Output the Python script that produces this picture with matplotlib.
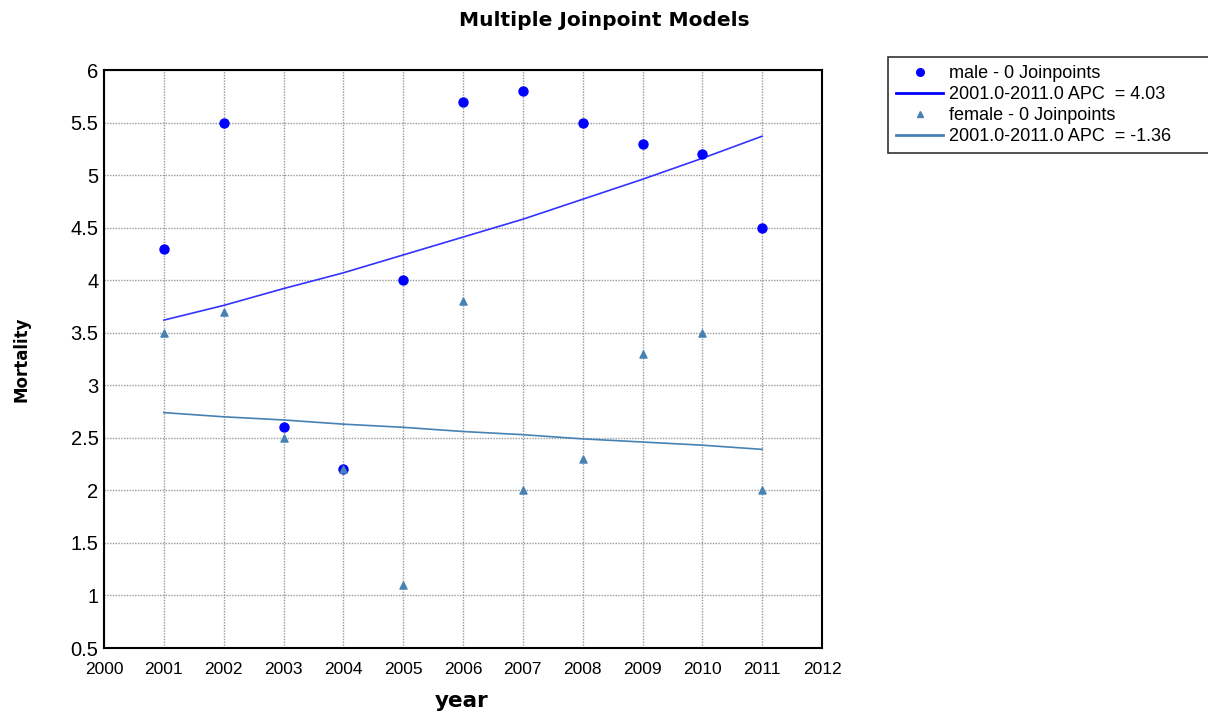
import matplotlib
matplotlib.use("Agg")
import matplotlib.pyplot as plt
from matplotlib.lines import Line2D

years = [2001, 2002, 2003, 2004, 2005, 2006, 2007, 2008, 2009, 2010, 2011]
male = [4.3, 5.5, 2.6, 2.2, 4.0, 5.7, 5.8, 5.5, 5.3, 5.2, 4.5]
female = [3.5, 3.7, 2.5, 2.2, 1.1, 3.8, 2.0, 2.3, 3.3, 3.5, 2.0]
# fitted joinpoint model values
male_fit = [3.62, 3.76, 3.92, 4.07, 4.24, 4.41, 4.58, 4.77, 4.96, 5.16, 5.37]
female_fit = [2.74, 2.70, 2.67, 2.63, 2.60, 2.56, 2.53, 2.49, 2.46, 2.43, 2.39]
male_label = ["male - 0 Joinpoints", "2001.0-2011.0 APC  = 4.03"]
female_label = ["female - 0 Joinpoints", "2001.0-2011.0 APC  = -1.36"]

male_col = "#0000ff"
male_line = "#3333ff"
female_col = "#4682b4"

plt.rcParams['font.family'] = ['Liberation Sans', 'DejaVu Sans']

fig = plt.figure(figsize=(12.08, 7.12), dpi=100)
ax = fig.add_axes([104/1208, 1-648/712, (822-104)/1208, (648-70)/712])

ax.plot(years, male_fit, color=male_line, lw=1.2, zorder=2)
ax.plot(years, female_fit, color=female_col, lw=1.2, zorder=2)
ax.scatter(years, male, color=male_col, s=42, marker="o", zorder=3)
ax.scatter(years, female, color=female_col, s=26, marker="^", zorder=4)

ax.set_xlim(2000, 2012)
ax.set_ylim(0.5, 6)
ax.set_xticks(range(2000, 2013))
ax.set_yticks([0.5, 1, 1.5, 2, 2.5, 3, 3.5, 4, 4.5, 5, 5.5, 6])
ax.set_yticklabels(["0.5", "1", "1.5", "2", "2.5", "3", "3.5", "4", "4.5", "5", "5.5", "6"])
ax.tick_params(axis="y", labelsize=14.5, length=0, pad=4)
ax.tick_params(axis="x", labelsize=12.5, length=0, pad=10)
ax.grid(True, color="#999999", linestyle=(0, (1, 1)), lw=1)
for s in ax.spines.values():
    s.set_linewidth(1.5)

fig.text(604/1208, 1-20/712, "Multiple Joinpoint Models", ha="center", va="center",
         fontsize=14.5, fontweight="bold", family="DejaVu Sans")
fig.text(22/1208, 1-359/712, "Mortality", rotation=90, ha="center", va="center",
         fontsize=12, fontweight="bold", family="DejaVu Sans")
fig.text(462/1208, 1-701/712, "year", ha="center", va="center",
         fontsize=15.5, fontweight="bold", family="DejaVu Sans")

handles = [
    Line2D([], [], color=male_col, marker="o", ls="none", markersize=5.5),
    Line2D([], [], color=male_col, lw=2),
    Line2D([], [], color=female_col, marker="^", ls="none", markersize=4.5),
    Line2D([], [], color=female_col, lw=2),
]
labels = [male_label[0], male_label[1], female_label[0], female_label[1]]
x0 = 888/1208
leg = fig.legend(handles, labels, loc="upper left",
                 bbox_to_anchor=(x0, 1-57/712, 1.005-x0, 0.0), mode="expand",
                 frameon=True, fancybox=False, edgecolor="black", fontsize=13,
                 handlelength=2.6, labelspacing=0.22, borderpad=0.45,
                 handletextpad=0.35, borderaxespad=0)
leg.get_frame().set_linewidth(1.2)

fig.savefig("out.png", dpi=100)
